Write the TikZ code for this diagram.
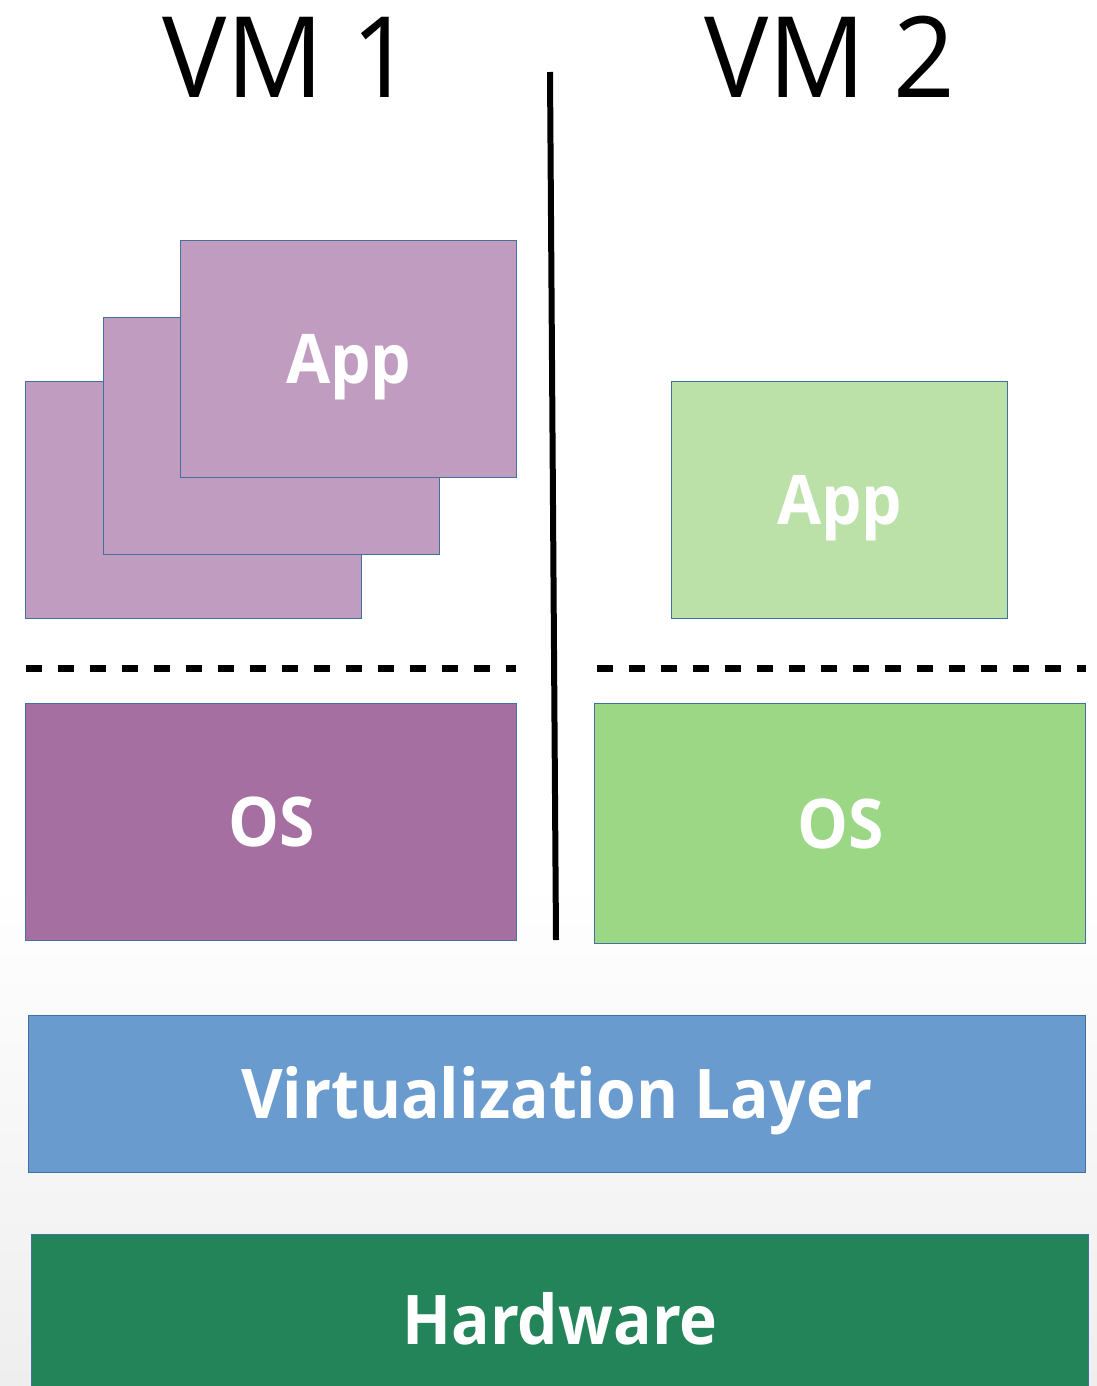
\documentclass[tikz,border=0pt]{standalone}
\usepackage{fontspec}
\setmainfont{Open Sans}
\newfontfamily\vmfont{Open Sans}[FakeStretch=0.96]
\newfontfamily\boxfont{Open Sans}[FakeStretch=0.935]
\usetikzlibrary{positioning}
\definecolor{appPurple}{RGB}{192,157,192}
\definecolor{osPurple}{RGB}{165,111,162}
\definecolor{appGreen}{RGB}{187,224,168}
\definecolor{osGreen}{RGB}{155,215,133}
\definecolor{virtBlue}{RGB}{106,155,206}
\definecolor{hwGreen}{RGB}{34,132,88}
\definecolor{boxBorder}{RGB}{65,113,156}
\definecolor{bgGrey}{RGB}{238,238,238}

\begin{document}
\begin{tikzpicture}[
        x=0.02cm, y=-0.02cm,
        box/.style={draw=boxBorder, line width=0.8pt, anchor=north west, inner sep=0pt, text=white, text height=27.8pt, text depth=0pt, font=\boxfont\bfseries\fontsize{39}{41}\selectfont},
        app box/.style={box, fill=appPurple, minimum width=6.72cm, minimum height=4.74cm},
        os box/.style={box, minimum width=9.82cm, minimum height=4.74cm},
        layer box/.style={box, minimum width=21.14cm, minimum height=3.14cm},
        vm title/.style={font=\vmfont\fontsize{64}{66}\selectfont, anchor=base},
        separator/.style={line width=0.14cm, dash pattern=on 0.32cm off 0.32cm},
    ]

    % background
    \fill[white] (0,0) rectangle (1097,880);
    \shade[top color=white, bottom color=bgGrey] (0,880) rectangle (1097,1386);
    \useasboundingbox (0,0) rectangle (1097,1386);

    \node[vm title] (vm1) at (288,97) {VM 1};
    \node[vm title] (vm2) at (830,97) {VM 2};

    % VM 1: stack of apps
    \node[app box] (app back) at (25,381) {};
    \node[app box] (app mid) at (103,317) {};
    \node[app box] (app front) at (180,240) {App};
    % VM 2: one app
    \node[app box, fill=appGreen] (app vm2) at (671,381) {App};

    \coordinate (sep1 start) at (26,668);
    \coordinate (sep1 end) at (516,668);
    \coordinate (sep2 start) at (597,668);
    \coordinate (sep2 end) at (1086,668);
    \draw[separator] (sep1 start) -- (sep1 end);
    \draw[separator] (sep2 start) -- (sep2 end);

    \node[os box, fill=osPurple] (os1) at (25,703) {OS};
    \node[os box, fill=osGreen, minimum height=4.8cm] (os2) at (594,703) {OS};

    \coordinate (divider top) at (550,72);
    \coordinate (divider bottom) at (556,940);
    \draw[line width=0.12cm] (divider top) -- (divider bottom);

    \node[layer box, fill=virtBlue] (virt) at (28,1015) {Virtualization Layer};
    \node[layer box, fill=hwGreen, minimum height=3.4cm] (hw) at (31,1234) {Hardware};

\end{tikzpicture}
\end{document}
